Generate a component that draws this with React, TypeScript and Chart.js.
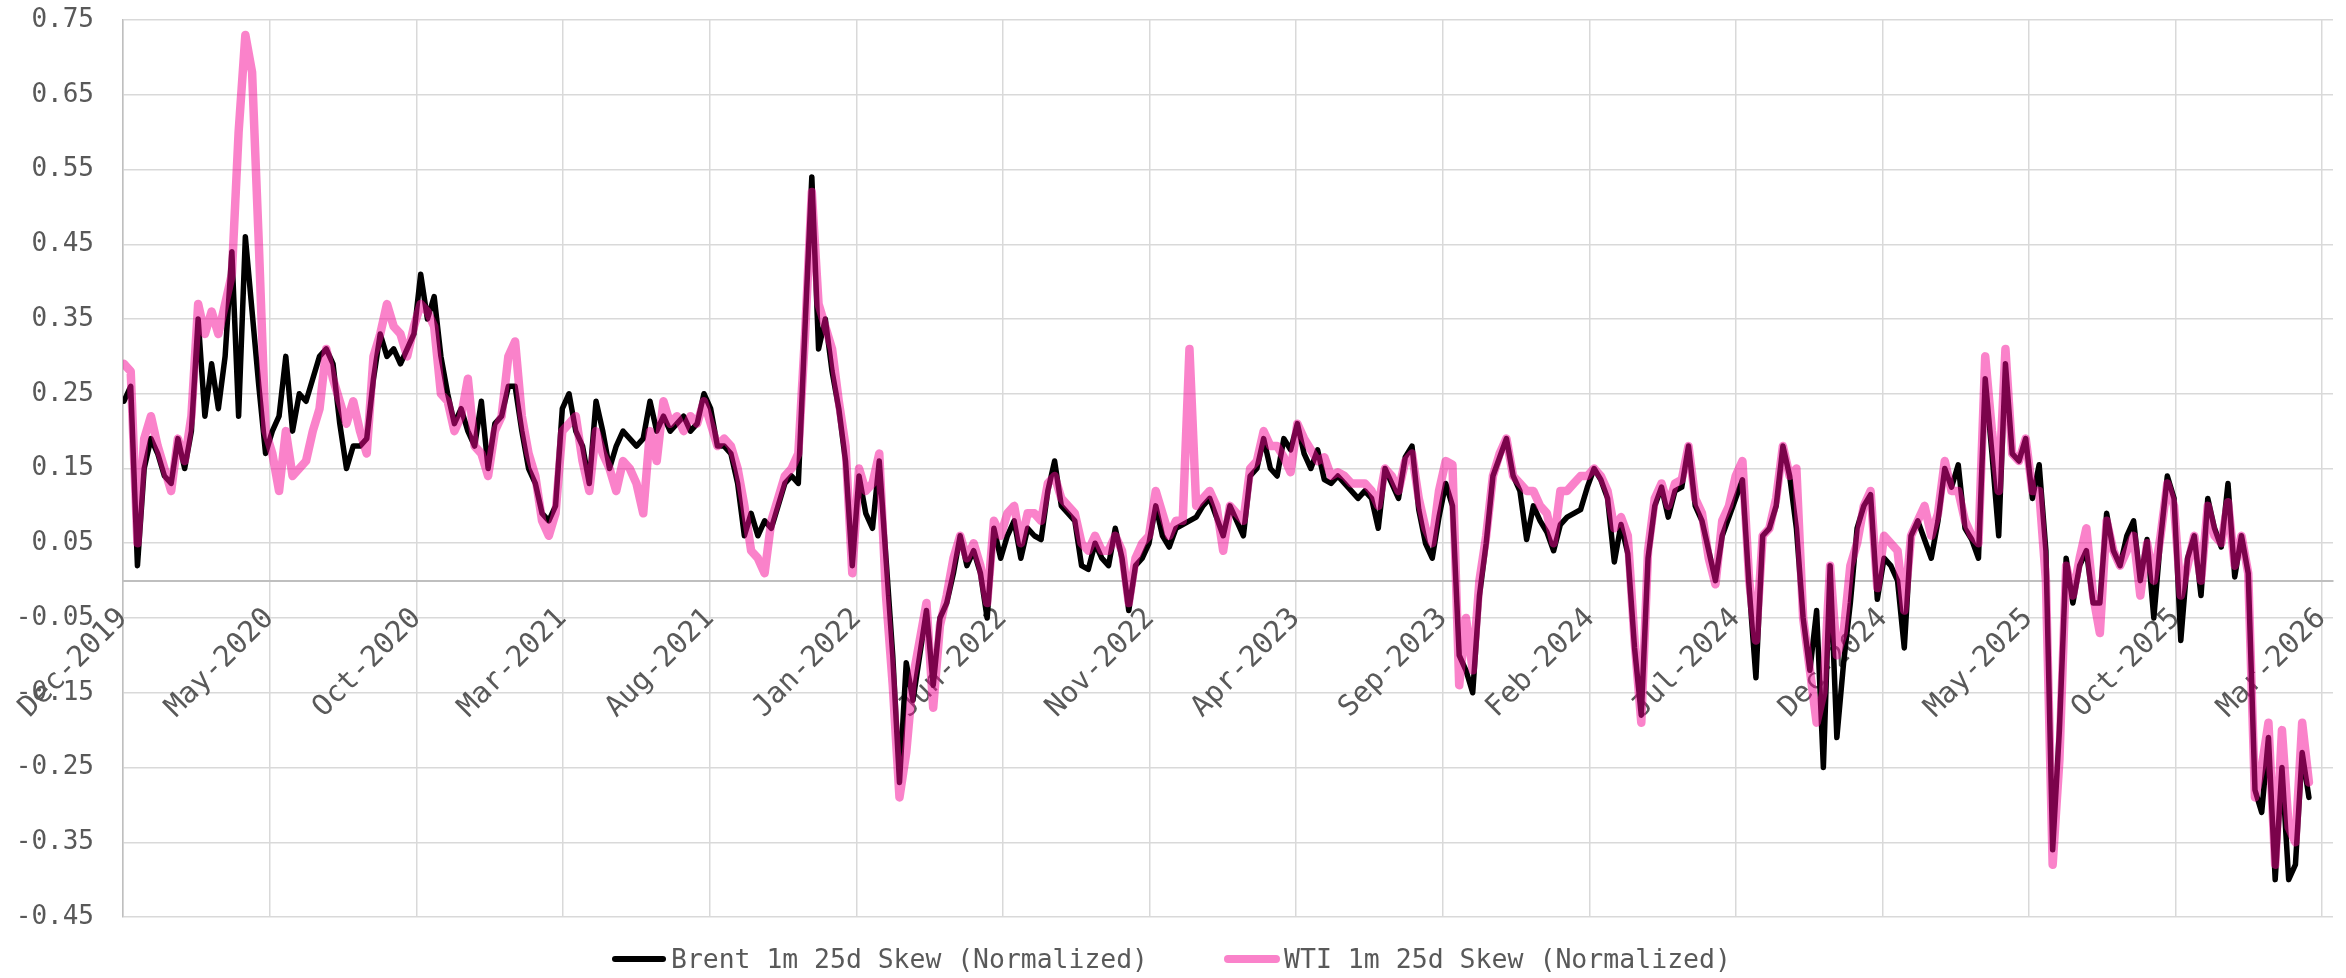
import React, { useEffect, useRef } from 'react';
import { Chart, registerables } from 'chart.js';

Chart.register(...registerables);

// ---------- DATA ----------
const seriesNames = ['Brent 1m 25d Skew (Normalized)', 'WTI 1m 25d Skew (Normalized)'];

// weekly observations (Mondays); each yearly block starts at the date below
const yearStarts = ['2019-12-02', '2020-01-06', '2021-01-04', '2022-01-03', '2023-01-02', '2024-01-01', '2025-01-06', '2026-01-05'];

const brent2019 = [0.24, 0.26, 0.02, 0.15, 0.19];
const wti2019 = [0.29, 0.28, 0.05, 0.19, 0.22];

const brent2020 = [
  0.17, 0.14, 0.13, 0.19,
  0.15, 0.20, 0.35, 0.22,
  0.29, 0.23, 0.30, 0.44, 0.22,
  0.46, 0.36, 0.26, 0.17,
  0.20, 0.22, 0.30, 0.20,
  0.25, 0.24, 0.27, 0.30, 0.31,
  0.29, 0.21, 0.15, 0.18,
  0.18, 0.19, 0.27, 0.33, 0.30,
  0.31, 0.29, 0.31, 0.33,
  0.41, 0.35, 0.38, 0.30,
  0.25, 0.21, 0.23, 0.20, 0.18,
  0.24, 0.15, 0.21, 0.22,
];
const wti2020 = [
  0.18, 0.15, 0.12, 0.19,
  0.16, 0.22, 0.37, 0.33,
  0.36, 0.33, 0.37, 0.41, 0.60,
  0.73, 0.68, 0.45, 0.20,
  0.17, 0.12, 0.20, 0.14,
  0.15, 0.16, 0.20, 0.23, 0.31,
  0.27, 0.24, 0.21, 0.24,
  0.20, 0.17, 0.30, 0.33, 0.37,
  0.34, 0.33, 0.30, 0.34,
  0.37, 0.36, 0.34, 0.25,
  0.24, 0.20, 0.22, 0.27, 0.18,
  0.17, 0.14, 0.20, 0.22,
];

const brent2021 = [
  0.26, 0.26, 0.20, 0.15,
  0.13, 0.09, 0.08, 0.10,
  0.23, 0.25, 0.20, 0.18, 0.13,
  0.24, 0.20, 0.15, 0.18,
  0.20, 0.19, 0.18, 0.19, 0.24,
  0.20, 0.22, 0.20, 0.21,
  0.22, 0.20, 0.21, 0.25,
  0.23, 0.18, 0.18, 0.17, 0.13,
  0.06, 0.09, 0.06, 0.08,
  0.07, 0.10, 0.13, 0.14,
  0.13, 0.34, 0.54, 0.31, 0.35,
  0.28, 0.23, 0.16, 0.02,
];
const wti2021 = [
  0.30, 0.32, 0.22, 0.17,
  0.14, 0.08, 0.06, 0.09,
  0.20, 0.21, 0.22, 0.16, 0.12,
  0.20, 0.17, 0.15, 0.12,
  0.16, 0.15, 0.13, 0.09, 0.20,
  0.16, 0.24, 0.21, 0.22,
  0.20, 0.22, 0.21, 0.24,
  0.21, 0.18, 0.19, 0.18, 0.15,
  0.10, 0.04, 0.03, 0.01,
  0.08, 0.11, 0.14, 0.15,
  0.17, 0.33, 0.52, 0.37, 0.34,
  0.31, 0.24, 0.18, 0.01,
];

const brent2022 = [
  0.14, 0.09, 0.07, 0.16, 0.03,
  -0.10, -0.27, -0.11, -0.16,
  -0.10, -0.04, -0.14, -0.05,
  -0.03, 0.01, 0.06, 0.02,
  0.04, 0.01, -0.05, 0.07, 0.03,
  0.06, 0.08, 0.03, 0.07,
  0.06, 0.055, 0.12, 0.16,
  0.10, 0.09, 0.08, 0.02, 0.015,
  0.05, 0.03, 0.02, 0.07,
  0.03, -0.04, 0.02, 0.03, 0.05,
  0.10, 0.06, 0.045, 0.07,
  0.075, 0.08, 0.085, 0.10,
];
const wti2022 = [
  0.15, 0.12, 0.13, 0.17, -0.02,
  -0.14, -0.29, -0.23, -0.13,
  -0.08, -0.03, -0.17, -0.06,
  -0.02, 0.03, 0.06, 0.03,
  0.05, 0.02, -0.03, 0.08, 0.06,
  0.09, 0.10, 0.05, 0.09,
  0.09, 0.08, 0.13, 0.14,
  0.11, 0.10, 0.09, 0.05, 0.04,
  0.06, 0.04, 0.04, 0.06,
  0.04, -0.03, 0.03, 0.05, 0.06,
  0.12, 0.09, 0.06, 0.08,
  0.08, 0.31, 0.10, 0.11,
];

const brent2023 = [
  0.11, 0.085, 0.06, 0.10, 0.08,
  0.06, 0.14, 0.15, 0.19,
  0.15, 0.14, 0.19, 0.175,
  0.21, 0.17, 0.15, 0.175,
  0.135, 0.13, 0.14, 0.13, 0.12,
  0.11, 0.12, 0.11, 0.07,
  0.15, 0.13, 0.11, 0.165, 0.18,
  0.095, 0.05, 0.03, 0.085,
  0.13, 0.10, -0.10, -0.12,
  -0.15, -0.02, 0.05, 0.14, 0.165,
  0.19, 0.14, 0.12, 0.055,
  0.10, 0.08, 0.065, 0.04,
];
const wti2023 = [
  0.12, 0.10, 0.04, 0.10, 0.09,
  0.08, 0.15, 0.16, 0.20,
  0.18, 0.18, 0.165, 0.145,
  0.21, 0.19, 0.175, 0.16,
  0.165, 0.14, 0.145, 0.14, 0.13,
  0.13, 0.13, 0.12, 0.10,
  0.15, 0.14, 0.12, 0.16, 0.17,
  0.11, 0.07, 0.05, 0.12,
  0.16, 0.155, -0.14, -0.05,
  -0.12, 0.00, 0.06, 0.14, 0.17,
  0.19, 0.14, 0.13, 0.12,
  0.12, 0.10, 0.09, 0.05,
];

const brent2024 = [
  0.075, 0.085, 0.09, 0.095, 0.125,
  0.15, 0.135, 0.11, 0.025,
  0.075, 0.036, -0.09, -0.18,
  0.03, 0.10, 0.125, 0.085, 0.12,
  0.125, 0.18, 0.10, 0.08,
  0.04, 0.00, 0.06, 0.085,
  0.11, 0.135, -0.01, -0.13, 0.06,
  0.07, 0.10, 0.18, 0.14,
  0.07, -0.05, -0.12, -0.04, -0.25,
  0.02, -0.21, -0.11, -0.03,
  0.07, 0.10, 0.115, -0.025,
  0.03, 0.02, 0.00, -0.09, 0.06,
];
const wti2024 = [
  0.12, 0.12, 0.13, 0.14, 0.14,
  0.15, 0.14, 0.12, 0.07,
  0.085, 0.06, -0.08, -0.19,
  0.04, 0.11, 0.13, 0.10, 0.13,
  0.135, 0.18, 0.11, 0.09,
  0.03, -0.005, 0.08, 0.10,
  0.14, 0.16, 0.00, -0.08, 0.06,
  0.07, 0.11, 0.18, 0.14,
  0.15, -0.05, -0.12, -0.19, -0.15,
  0.02, -0.10, -0.07, 0.02,
  0.05, 0.10, 0.12, -0.01,
  0.06, 0.05, 0.04, -0.04, 0.06,
];

const brent2025 = [
  0.08, 0.055, 0.03, 0.08,
  0.15, 0.125, 0.155, 0.07,
  0.055, 0.03, 0.27, 0.17, 0.06,
  0.29, 0.17, 0.16, 0.19,
  0.11, 0.155, 0.04, -0.36,
  -0.20, 0.03, -0.03, 0.02, 0.04,
  -0.03, -0.03, 0.09, 0.04,
  0.02, 0.06, 0.08, 0.00,
  0.055, -0.05, 0.055, 0.14, 0.11,
  -0.08, 0.03, 0.06, -0.02,
  0.11, 0.07, 0.045, 0.13,
  0.005, 0.06, 0.01, -0.28, -0.31,
];
const wti2025 = [
  0.08, 0.10, 0.06, 0.09,
  0.16, 0.12, 0.12, 0.08,
  0.06, 0.05, 0.30, 0.20, 0.12,
  0.31, 0.17, 0.16, 0.19,
  0.12, 0.12, 0.00, -0.38,
  -0.24, 0.02, -0.02, 0.03, 0.07,
  -0.02, -0.07, 0.08, 0.04,
  0.02, 0.04, 0.06, -0.02,
  0.05, 0.00, 0.06, 0.13, 0.10,
  -0.02, 0.02, 0.06, 0.00,
  0.10, 0.06, 0.05, 0.105,
  0.02, 0.06, 0.01, -0.29, -0.25,
];

const brent2026 = [-0.21, -0.40, -0.25, -0.40, -0.38, -0.23, -0.29];
const wti2026 = [-0.19, -0.38, -0.20, -0.33, -0.35, -0.19, -0.27];

const brentYears = [brent2019, brent2020, brent2021, brent2022, brent2023, brent2024, brent2025, brent2026];
const wtiYears = [wti2019, wti2020, wti2021, wti2022, wti2023, wti2024, wti2025, wti2026];

// axis
const axisStart = '2019-12-01';
const axisEnd = '2026-03-13';
const xTickDates = [
  '2019-12-01', '2020-05-01', '2020-10-01', '2021-03-01', '2021-08-01', '2022-01-01', '2022-06-01', '2022-11-01',
  '2023-04-01', '2023-09-01', '2024-02-01', '2024-07-01', '2024-12-01', '2025-05-01', '2025-10-01', '2026-03-01',
];
const xTickLabels = [
  'Dec-2019', 'May-2020', 'Oct-2020', 'Mar-2021', 'Aug-2021', 'Jan-2022', 'Jun-2022', 'Nov-2022',
  'Apr-2023', 'Sep-2023', 'Feb-2024', 'Jul-2024', 'Dec-2024', 'May-2025', 'Oct-2025', 'Mar-2026',
];
const yTicks = [-0.45, -0.35, -0.25, -0.15, -0.05, 0.05, 0.15, 0.25, 0.35, 0.45, 0.55, 0.65, 0.75];
const yMin = -0.45;
const yMax = 0.75;

// ---------- HELPERS ----------
const DAY = 86400000;
const dayNum = (s: string) => (Date.parse(s + 'T00:00:00Z') - Date.parse(axisStart + 'T00:00:00Z')) / DAY;

function buildPoints(years: number[][]) {
  const pts: { x: number; y: number }[] = [];
  years.forEach((arr, k) => {
    const d0 = dayNum(yearStarts[k]);
    arr.forEach((v, i) => pts.push({ x: d0 + 7 * i, y: v }));
  });
  return pts;
}

const TEXT = '#595959';
const GRID = '#d9d9d9';
const AXIS = '#bfbfbf';
const BRENT_COLOR = '#000000';
const WTI_COLOR = 'rgba(245, 5, 150, 0.5)';
const MONO = "'DejaVu Sans Mono', monospace";
const Y_TICK_FONT = { family: MONO, size: 26 };
const X_TICK_FONT = { family: MONO, size: 29 };

const W = 2346;
const H = 978;

const legendPlugin = {
  id: 'skewLegend',
  afterDraw(chart: any) {
    const ctx: CanvasRenderingContext2D = chart.ctx;
    const items = [
      { text: seriesNames[0], color: BRENT_COLOR, width: 6, x0: 615, x1: 663, tx: 671, tw: 477 },
      { text: seriesNames[1], color: WTI_COLOR, width: 8, x0: 1228, x1: 1276, tx: 1284, tw: 447 },
    ];
    const yLine = 959;
    const baseline = 968;
    ctx.save();
    items.forEach((it) => {
      ctx.beginPath();
      ctx.lineCap = 'round';
      ctx.strokeStyle = it.color;
      ctx.lineWidth = it.width;
      ctx.moveTo(it.x0, yLine);
      ctx.lineTo(it.x1, yLine);
      ctx.stroke();
      ctx.font = `26px ${MONO}`;
      ctx.fillStyle = TEXT;
      ctx.textBaseline = 'alphabetic';
      ctx.textAlign = 'left';
      const m = ctx.measureText(it.text).width;
      ctx.save();
      ctx.translate(it.tx, baseline);
      ctx.scale(it.tw / m, 1);
      ctx.fillText(it.text, 0, 0);
      ctx.restore();
    });
    ctx.restore();
  },
};

export default function App() {
  const canvasRef = useRef<HTMLCanvasElement | null>(null);

  useEffect(() => {
    const canvas = canvasRef.current;
    if (!canvas) return;
    const chart = new Chart(canvas, {
      type: 'line',
      data: {
        datasets: [
          {
            label: seriesNames[0],
            data: buildPoints(brentYears),
            borderColor: BRENT_COLOR,
            backgroundColor: BRENT_COLOR,
            borderWidth: 5.5,
            pointRadius: 0,
            tension: 0,
            borderJoinStyle: 'round',
            borderCapStyle: 'round',
            order: 1,
          },
          {
            label: seriesNames[1],
            data: buildPoints(wtiYears),
            borderColor: WTI_COLOR,
            backgroundColor: WTI_COLOR,
            borderWidth: 8.5,
            pointRadius: 0,
            tension: 0,
            borderJoinStyle: 'round',
            borderCapStyle: 'round',
            order: 0,
          },
        ],
      },
      options: {
        animation: false,
        responsive: false,
        devicePixelRatio: 1,
        events: [],
        layout: { padding: { left: 0, top: 20, right: 13, bottom: 61 } },
        plugins: {
          legend: { display: false },
          tooltip: { enabled: false },
        },
        scales: {
          y: {
            type: 'linear',
            min: yMin,
            max: yMax,
            afterBuildTicks: (scale: any) => {
              scale.ticks = yTicks.map((v) => ({ value: v }));
            },
            afterFit: (scale: any) => {
              scale.width = 123;
              scale.paddingTop = 0;
              scale.paddingBottom = 0;
            },
            ticks: {
              color: TEXT,
              font: Y_TICK_FONT,
              padding: 29,
              callback: (v: any) => Number(v).toFixed(2),
            },
            grid: { color: GRID, lineWidth: 1.5, drawTicks: false },
            border: { color: AXIS, width: 1.5 },
          },
          x: {
            type: 'linear',
            position: { y: 0 } as any,
            min: 0,
            max: dayNum(axisEnd),
            afterBuildTicks: (scale: any) => {
              scale.ticks = xTickDates.map((d) => ({ value: dayNum(d) }));
            },
            afterFit: (scale: any) => {
              scale.paddingLeft = 0;
              scale.paddingRight = 0;
            },
            ticks: {
              color: TEXT,
              font: X_TICK_FONT,
              autoSkip: false,
              maxRotation: 45,
              minRotation: 45,
              padding: 21,
              callback: (_v: any, i: number) => xTickLabels[i],
            },
            grid: { color: GRID, lineWidth: 1.5, drawTicks: false },
            border: { color: AXIS, width: 2 },
          },
        },
      },
      plugins: [legendPlugin],
    } as any);
    return () => chart.destroy();
  }, []);

  return (
    <div style={{ position: 'fixed', left: 0, top: 0, width: W, height: H, background: '#ffffff' }}>
      <canvas ref={canvasRef} width={W} height={H} style={{ display: 'block', width: W, height: H }} />
    </div>
  );
}
